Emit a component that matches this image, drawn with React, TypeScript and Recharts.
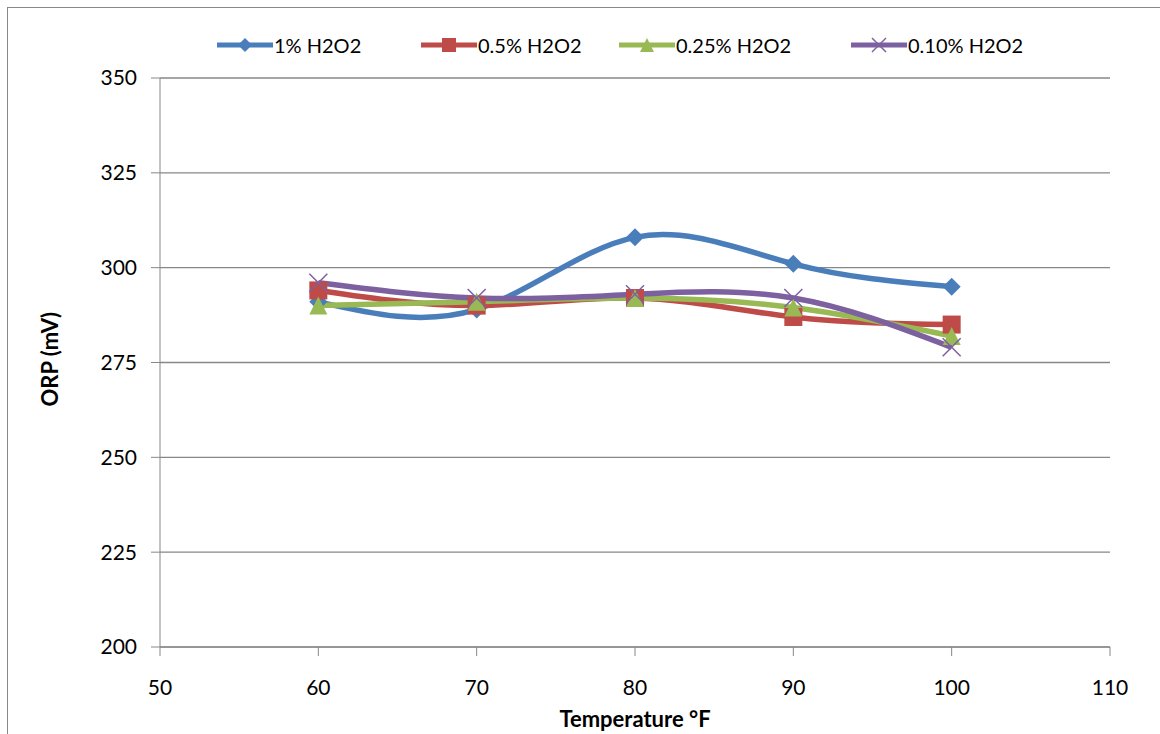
import React from 'react';
import { LineChart, Line, XAxis, YAxis, CartesianGrid } from 'recharts';

const temps = [60, 70, 80, 90, 100];
const h2o2_1 = [291, 289, 308, 301, 295];
const h2o2_05 = [294, 290, 292, 287, 285];
const h2o2_025 = [290, 291, 292, 289.5, 282];
const h2o2_010 = [296, 292, 293, 292, 279];
const xTicks = [50, 60, 70, 80, 90, 100, 110];
const yTicks = [200, 225, 250, 275, 300, 325, 350];

const data = temps.map((t, i) => ({
  t,
  a: h2o2_1[i],
  b: h2o2_05[i],
  c: h2o2_025[i],
  d: h2o2_010[i],
}));

const FONT = 'Lato, "Liberation Sans", Arial, sans-serif';

const series = [
  { key: 'a', name: '1% H2O2', color: '#4A7EBB', shape: 'diamond' },
  { key: 'b', name: '0.5% H2O2', color: '#BE4B48', shape: 'square' },
  { key: 'c', name: '0.25% H2O2', color: '#98B954', shape: 'triangle' },
  { key: 'd', name: '0.10% H2O2', color: '#7D60A0', shape: 'x' },
];

function Marker({ cx, cy, shape, color, s = 9 }) {
  if (cx == null || cy == null) return null;
  if (shape === 'diamond')
    return <polygon points={`${cx},${cy - s} ${cx + s},${cy} ${cx},${cy + s} ${cx - s},${cy}`} fill={color} />;
  if (shape === 'square')
    return <rect x={cx - s} y={cy - s} width={s * 2} height={s * 2} fill={color} />;
  if (shape === 'triangle')
    return <polygon points={`${cx},${cy - s} ${cx + s},${cy + s} ${cx - s},${cy + s}`} fill={color} />;
  return (
    <g stroke={color} strokeWidth={1.5}>
      <line x1={cx - s} y1={cy - s} x2={cx + s} y2={cy + s} />
      <line x1={cx - s} y1={cy + s} x2={cx + s} y2={cy - s} />
    </g>
  );
}

const legendX = [216, 420, 618, 850];

export default function App() {
  return (
    <div style={{ position: 'absolute', left: 0, top: 0, width: 1160, height: 734, background: '#fff', overflow: 'hidden' }}>
      <div style={{ position: 'absolute', left: 7, top: 7, width: 1160, height: 740, border: '1.5px solid #888', boxSizing: 'border-box' }} />
      {series.map((s, i) => (
        <div
          key={s.key}
          style={{ position: 'absolute', left: legendX[i], top: 33, display: 'flex', alignItems: 'center', fontFamily: FONT, fontSize: 20, color: '#000' }}
        >
          <svg width={58} height={24}>
            <line x1={1} y1={12} x2={57} y2={12} stroke={s.color} strokeWidth={5} />
            <Marker cx={29} cy={12} shape={s.shape} color={s.color} s={7} />
          </svg>
          <span>{s.name}</span>
        </div>
      ))}
      <LineChart
        width={1160}
        height={734}
        data={data}
        margin={{ top: 78, right: 50, left: 44, bottom: 7 }}
        style={{ position: 'absolute', left: 0, top: 0 }}
      >
        <CartesianGrid vertical={false} stroke="#878787" strokeWidth={1.3} />
        <XAxis
          dataKey="t"
          type="number"
          domain={[50, 110]}
          ticks={xTicks}
          stroke="#878787"
          tickSize={9}
          tick={{ fill: '#000', fontSize: 21, fontFamily: FONT }}
          tickMargin={24}
          height={80}
          label={{ value: 'Temperature °F', position: 'insideBottom', offset: 0, fill: '#000', fontSize: 22, fontWeight: 'bold', fontFamily: FONT }}
        />
        <YAxis
          domain={[200, 350]}
          ticks={yTicks}
          stroke="#878787"
          tickSize={9}
          width={116}
          tick={{ fill: '#000', fontSize: 21, fontFamily: FONT }}
          tickMargin={14}
          label={{ value: 'ORP (mV)', angle: -90, position: 'insideLeft', offset: 6, dy: 44, fill: '#000', fontSize: 22, fontWeight: 'bold', fontFamily: FONT }}
        />
        {series.map((s) => (
          <Line
            key={s.key}
            type="natural"
            dataKey={s.key}
            name={s.name}
            stroke={s.color}
            strokeWidth={5.5}
            isAnimationActive={false}
            dot={(p) => <Marker key={`${s.key}-${p.index}`} cx={p.cx} cy={p.cy} shape={s.shape} color={s.color} />}
            activeDot={false}
          />
        ))}
      </LineChart>
    </div>
  );
}
